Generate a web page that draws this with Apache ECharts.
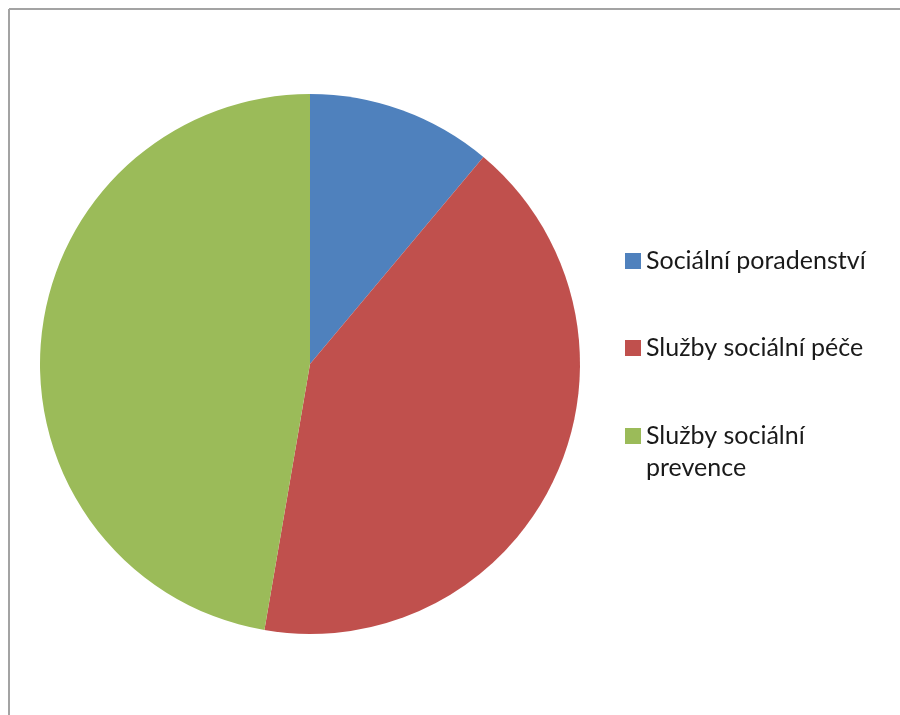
<!DOCTYPE html>
<html>
<head>
<meta charset="utf-8">
<script src="https://cdn.jsdelivr.net/npm/echarts@6/dist/echarts.min.js"></script>
<style>
  html, body { margin: 0; padding: 0; background: #fff; }
  #chart { width: 900px; height: 715px; }
</style>
</head>
<body>
<div id="chart"></div>
<script>
  // kategorie a hodnoty (podíl v %)
  const categories = ['Sociální poradenství', 'Služby sociální péče', 'Služby sociální prevence']
  const values = [11.1, 41.6, 47.3]
  const colors = ['#4f81bd', '#c0504d', '#9bbb59']

  const chart = echarts.init(document.getElementById('chart'))

  const legendText = {
    fontFamily: 'Lato',
    fontSize: 25,
    color: '#1a1a1a',
    lineHeight: 32
  }

  chart.setOption({
    animation: false,
    color: colors,
    graphic: [
      { type: 'line', silent: true, shape: { x1: 9, y1: 9, x2: 9, y2: 715 }, style: { stroke: '#a3a3a3', lineWidth: 2 } },
      { type: 'line', silent: true, shape: { x1: 9, y1: 9, x2: 900, y2: 9 }, style: { stroke: '#a3a3a3', lineWidth: 2 } }
    ],
    legend: [
      {
        // jednořádkové položky
        orient: 'vertical',
        left: 620,
        top: 240,
        itemWidth: 16,
        itemHeight: 16,
        itemGap: 55,
        icon: 'rect',
        itemStyle: { borderWidth: 0 },
        data: categories.slice(0, 2),
        textStyle: legendText
      },
      {
        // zalomená položka, značka u prvního řádku
        orient: 'vertical',
        left: 620,
        top: 415,
        itemWidth: 16,
        itemHeight: 64,
        icon: 'path://M0,0L0,0M0,8L16,8L16,24L0,24ZM0,64L0,64',
        itemStyle: { borderWidth: 0 },
        data: categories.slice(2),
        textStyle: Object.assign({ width: 235, overflow: 'break' }, legendText)
      }
    ],
    series: [
      {
        type: 'pie',
        center: [310, 364],
        radius: 270,
        startAngle: 90,
        clockwise: true,
        label: { show: false },
        labelLine: { show: false },
        emphasis: { disabled: true },
        data: categories.map((name, i) => ({ name: name, value: values[i] }))
      }
    ]
  })
</script>
</body>
</html>
